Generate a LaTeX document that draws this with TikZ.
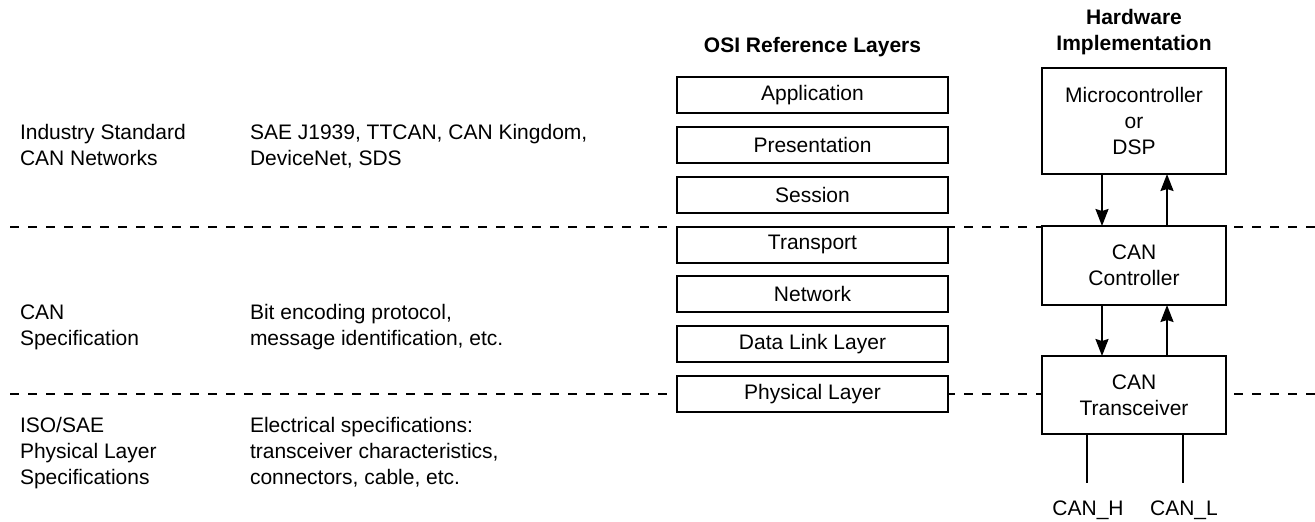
\documentclass[tikz,border=0pt]{standalone}
\usepackage{fontspec}
\setmainfont{Liberation Sans}
\usetikzlibrary{arrows.meta,calc}
\tikzset{
  txt/.style={font=\fontsize{21}{26}\selectfont, inner sep=0pt, outer sep=0pt},
  hd/.style={txt, font=\fontsize{21}{26}\selectfont\bfseries, align=center},
  lefttxt/.style={txt, align=left, anchor=base west},
  osibox/.style={txt, draw, line width=2pt, fill=white, minimum width=271pt, minimum height=36pt},
  hwbox/.style={txt, draw, line width=2pt, fill=white, minimum width=184pt, align=center},
  sep/.style={line width=2pt, dash pattern=on 9pt off 9pt},
  arr/.style={line width=2pt, -{Stealth[length=17pt,width=13pt,inset=2pt]}},
  wire/.style={line width=2pt},
}
\begin{document}
\begin{tikzpicture}[x=1pt,y=-1pt]
\useasboundingbox (0,0) rectangle (1315,522);
% dashed separators
\coordinate (s1a) at (10,226.5);
\coordinate (s1b) at (1315,226.5);
\coordinate (s2a) at (10,393.5);
\coordinate (s2b) at (1315,393.5);
\draw[sep] (s1a) -- (s1b);
\draw[sep] (s2a) -- (s2b);
% left texts (anchor = baseline of last line)
\node[lefttxt] (l1) at (20,165.5) {Industry Standard\\CAN Networks};
\node[lefttxt] (r1) at (250,165.5) {SAE J1939, TTCAN, CAN Kingdom,\\DeviceNet, SDS};
\node[lefttxt] (l2) at (20,345.5) {CAN\\Specification};
\node[lefttxt] (r2) at (250,345.5) {Bit encoding protocol,\\message identification, etc.};
\node[lefttxt] (l3) at (20,484.5) {ISO/SAE\\Physical Layer\\Specifications};
\node[lefttxt] (r3) at (250,484.5) {Electrical specifications:\\transceiver characteristics,\\connectors, cable, etc.};
% headings
\node[hd] (hosi) at (812.5,47) {OSI Reference Layers};
\node[hd] (hhw) at (1134,32) {Hardware\\Implementation};
% OSI layers
\node[osibox] (o1) at (812.5,95.0) {Application};
\node[osibox] (o2) at (812.5,144.8) {Presentation};
\node[osibox] (o3) at (812.5,194.7) {Session};
\node[osibox] (o4) at (812.5,244.5) {Transport};
\node[osibox] (o5) at (812.5,294.3) {Network};
\node[osibox] (o6) at (812.5,344.2) {Data Link Layer};
\node[osibox] (o7) at (812.5,394.0) {Physical Layer};
% hardware
\node[hwbox, minimum height=106pt] (hw1) at (1134,121) {Microcontroller\\or\\DSP};
\node[hwbox, minimum height=79pt] (hw2) at (1134,265.5) {CAN\\Controller};
\node[hwbox, minimum height=78pt] (hw3) at (1134,395) {CAN\\Transceiver};
\draw[arr] ([xshift=-32pt]hw1.south) -- ([xshift=-32pt]hw2.north);
\draw[arr] ([xshift=33pt]hw2.north) -- ([xshift=33pt]hw1.south);
\draw[arr] ([xshift=-32pt]hw2.south) -- ([xshift=-32pt]hw3.north);
\draw[arr] ([xshift=33pt]hw3.north) -- ([xshift=33pt]hw2.south);
% bus wires
\coordinate (hend) at (1087,483);
\coordinate (lend) at (1183,483);
\draw[wire] ([xshift=-47pt]hw3.south) -- (hend);
\draw[wire] ([xshift=49pt]hw3.south) -- (lend);
\node[txt] (canh) at (1088,510) {CAN\_H};
\node[txt] (canl) at (1184,510) {CAN\_L};
\end{tikzpicture}
\end{document}
